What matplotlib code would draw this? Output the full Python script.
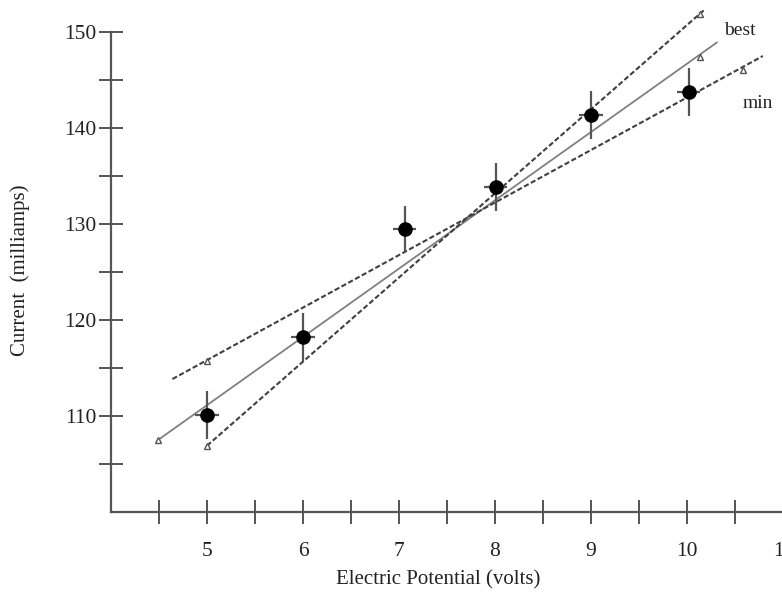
import numpy as np
import matplotlib
matplotlib.use("Agg")
import matplotlib.pyplot as plt
from matplotlib.ticker import MultipleLocator, NullFormatter

# measured points
volts = [5.0, 6.0, 7.06, 8.01, 9.0, 10.02]
current = [110.1, 118.2, 129.5, 133.85, 141.35, 143.75]
volt_err = [0.12, 0.12, 0.12, 0.12, 0.12, 0.12]
current_err = [2.5, 2.5, 2.4, 2.5, 2.5, 2.5]

# fitted lines (end points) and the little triangles on them
best_x = [4.49, 10.31]
best_y = [107.5, 148.9]
max_x = [5.0, 10.18]
max_y = [106.9, 152.3]
min_x = [4.64, 10.79]
min_y = [113.85, 147.5]
best_mark_x = [4.49, 10.14]
best_mark_y = [107.5, 147.4]
max_mark_x = [5.0, 10.14]
max_mark_y = [106.9, 151.9]
min_mark_x = [5.0, 10.58]
min_mark_y = [115.7, 146.0]

plt.rcParams["font.family"] = ["Liberation Serif", "DejaVu Serif"]

W, H = 782, 601
fig = plt.figure(figsize=(W / 100, H / 100), dpi=100)
ax = fig.add_axes([111 / W, 1 - 512 / H, 7.3 * 96 / W, 480 / H])
ax.set_xlim(4, 11.3)
ax.set_ylim(100, 150)

for s in ["top", "right"]:
    ax.spines[s].set_visible(False)
for s in ["left", "bottom"]:
    ax.spines[s].set_color("#555555")
    ax.spines[s].set_linewidth(1.6)

ax.xaxis.set_major_locator(MultipleLocator(1))
ax.xaxis.set_minor_locator(MultipleLocator(0.5))
ax.yaxis.set_major_locator(MultipleLocator(10))
ax.yaxis.set_minor_locator(MultipleLocator(5))
ax.set_xticks([5, 6, 7, 8, 9, 10, 11])
ax.set_xticks([4.5, 5.5, 6.5, 7.5, 8.5, 9.5, 10.5], minor=True)
ax.set_yticks([110, 120, 130, 140, 150])
ax.set_yticks([105, 115, 125, 135, 145], minor=True)
ax.xaxis.set_minor_formatter(NullFormatter())
ax.yaxis.set_minor_formatter(NullFormatter())

ax.tick_params(axis="both", which="both", direction="inout", length=17,
               width=1.4, color="#555555", labelsize=15.5, labelcolor="#222222")
ax.tick_params(axis="x", which="both", pad=13)
ax.tick_params(axis="y", which="both", pad=2)

# lines
ax.plot(best_x, best_y, color="#808080", lw=1.3, clip_on=False, zorder=2)
ax.plot(max_x, max_y, color="#404040", lw=1.5, ls=(0, (2.5, 1.2)), clip_on=False, zorder=2)
ax.plot(min_x, min_y, color="#404040", lw=1.5, ls=(0, (2.5, 1.2)), clip_on=False, zorder=2)
for mx, my in [(best_mark_x, best_mark_y), (max_mark_x, max_mark_y), (min_mark_x, min_mark_y)]:
    ax.plot(mx, my, ls="none", marker="^", ms=5, mfc="white", mec="#555555",
            mew=1.0, clip_on=False, zorder=3)

ax.errorbar(volts, current, yerr=current_err, xerr=volt_err, fmt="o",
            color="black", ms=9.5, ecolor="#555555", elinewidth=1.6,
            capsize=0, zorder=4, clip_on=False)

ax.text(10.55, 150.2, "best", fontsize=14, color="#222222", ha="center", va="center")
ax.text(10.74, 142.6, "min", fontsize=14, color="#222222", ha="center", va="center")

fig.text(438 / W, 1 - 580 / H, "Electric Potential (volts)", fontsize=15,
         color="#222222", ha="center", va="center")
fig.text(20 / W, 1 - 270 / H, "Current  (milliamps)", fontsize=15,
         color="#222222", ha="center", va="center", rotation=90)

fig.savefig("out.png", dpi=100)
